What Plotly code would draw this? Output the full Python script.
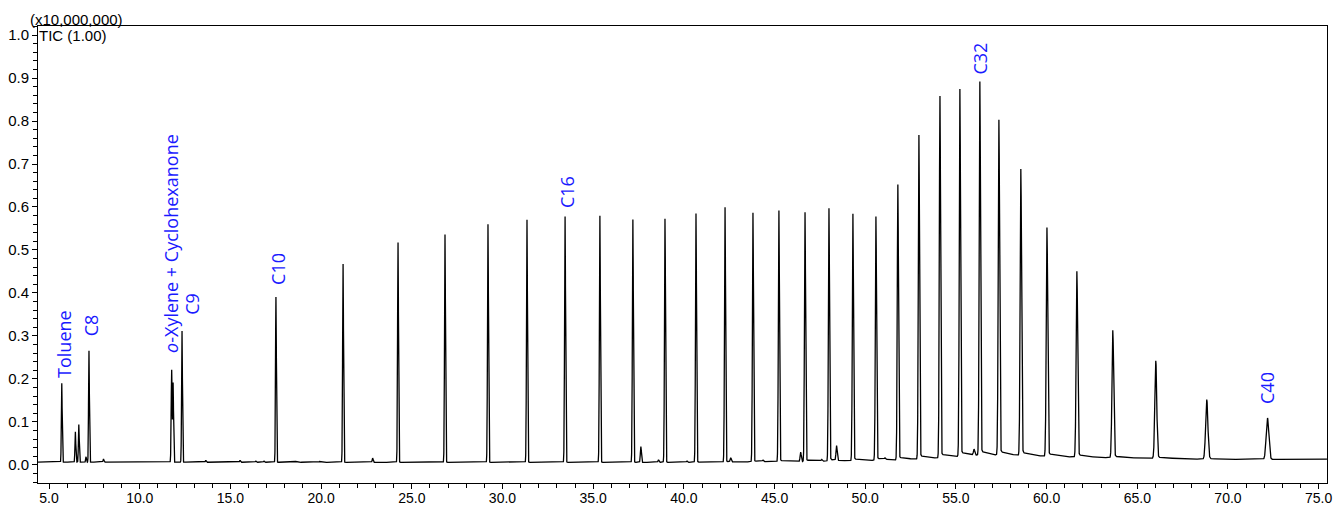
import numpy as np
import plotly.graph_objects as go

# ---- data (retention time in min, intensity in x10,000,000) ----
peak_times = [5.70, 6.45, 6.64, 7.04, 7.20, 8.00, 11.76, 11.84, 12.33, 13.64, 14.8, 15.53,
              16.40, 16.85, 17.51, 18.6, 19.9, 21.21, 22.84, 24.24, 26.83, 29.20, 31.35,
              33.45, 35.37, 37.19, 37.63, 38.60, 38.96, 40.17, 40.67, 42.27, 42.58,
              43.81, 44.36, 45.24, 46.44, 46.68, 47.60, 48.00, 48.42, 49.32, 50.59,
              51.08, 51.80, 52.96, 54.12, 55.22, 56.00, 56.32, 57.37, 58.58, 60.02,
              61.67, 63.65, 66.02, 68.83, 72.18]
peak_heights = [0.190, 0.077, 0.094, 0.019, 0.266, 0.014, 0.221, 0.190, 0.312, 0.011, 0.008,
                0.011, 0.009, 0.009, 0.391, 0.008, 0.008, 0.468, 0.016, 0.518, 0.536,
                0.560, 0.571, 0.578, 0.580, 0.571, 0.043, 0.012, 0.573, 0.009, 0.585,
                0.599, 0.016, 0.585, 0.010, 0.590, 0.029, 0.585, 0.011, 0.594, 0.041,
                0.580, 0.573, 0.012, 0.647, 0.760, 0.850, 0.865, 0.030, 0.881, 0.792,
                0.679, 0.545, 0.445, 0.310, 0.240, 0.151, 0.109]

baseline_t = [4.39, 20.0, 40.0, 48.0, 52.0, 54.0, 56.0, 58.0, 62.0, 66.0, 70.0, 75.46]
baseline_v = [0.0065, 0.0062, 0.0062, 0.0070, 0.0090, 0.0120, 0.0165, 0.0165, 0.0155,
              0.0145, 0.0125, 0.0135]

labels = ["Toluene", "C8", "<i>o</i>-Xylene + Cyclohexanone", "C9", "C10", "C16", "C32", "C40"]
label_t = [5.83, 7.32, 11.73, 12.87, 17.59, 33.56, 56.32, 72.18]
label_y = [0.198, 0.295, 0.255, 0.344, 0.415, 0.593, 0.903, 0.136]

x_ticks = [5.0, 10.0, 15.0, 20.0, 25.0, 30.0, 35.0, 40.0, 45.0, 50.0, 55.0, 60.0, 65.0, 70.0, 75.0]
y_ticks = [0.0, 0.1, 0.2, 0.3, 0.4, 0.5, 0.6, 0.7, 0.8, 0.9, 1.0]

# ---- build the trace from the peak table ----
t = np.arange(4.39, 75.46, 0.003)
base = np.interp(t, baseline_t, baseline_v)
y = base.copy()
for t0, h in zip(peak_times, peak_heights):
    sig = np.interp(t0, [5, 40, 55, 62, 66, 69, 72], [0.022, 0.028, 0.034, 0.042, 0.052, 0.062, 0.072])
    amp = h - np.interp(t0, baseline_t, baseline_v)
    if t0 == 11.76:
        sig = 0.026
    if t0 == 11.84:
        sig = 0.022
    y += amp * np.exp(-0.5 * ((t - t0) / sig) ** 2)
    ratio = np.interp(t0, [40, 50, 60], [0.0, 0.010, 0.015])
    if ratio > 0 and amp > 0.1:
        step = 1.0 / (1.0 + np.exp(-np.clip((t - t0) / sig, -50, 50)))
        y += ratio * amp * np.exp(-np.clip(t - t0, 0, None) / 1.0) * step

fig = go.Figure()
fig.add_trace(go.Scatter(x=t, y=y, mode="lines", line=dict(color="black", width=1.3),
                         hoverinfo="skip", showlegend=False))

for txt, lx, ly in zip(labels, label_t, label_y):
    fig.add_annotation(x=lx, y=ly, xref="x", yref="y", text=txt, showarrow=False,
                       textangle=-90, xanchor="center", yanchor="bottom",
                       font=dict(family="Open Sans", size=18, color="#1a1aff"))

fig.add_annotation(x=0, y=1, xref="paper", yref="paper", text="TIC (1.00)", showarrow=False,
                   xanchor="left", yanchor="top", xshift=-1, yshift=1,
                   font=dict(family="Liberation Sans", size=15, color="black"))
fig.add_annotation(x=0, y=1, xref="paper", yref="paper", text="(x10,000,000)", showarrow=False,
                   xanchor="left", yanchor="bottom", xshift=-10, yshift=-4,
                   font=dict(family="Liberation Sans", size=15, color="black"))

fig.update_layout(
    width=1333, height=506,
    margin=dict(l=38, r=6, t=26, b=23, autoexpand=False),
    paper_bgcolor="white", plot_bgcolor="white",
    font=dict(family="Liberation Sans", size=14, color="black"),
)
fig.update_xaxes(range=[4.39, 75.46], tickvals=x_ticks, ticktext=[f"{v:.1f}" for v in x_ticks],
                 ticks="outside", ticklen=5, tickwidth=1, tickcolor="black", automargin=False,
                 ticklabeloverflow="allow", ticklabelstandoff=-3,
                 minor=dict(dtick=1.0, ticks="outside", ticklen=4, tickcolor="black", showgrid=False),
                 showline=True, linecolor="black", linewidth=1, mirror=True,
                 showgrid=False, zeroline=False, tickfont=dict(size=14))
fig.update_yaxes(range=[-0.042, 1.021], tickvals=y_ticks, ticktext=[f"{v:.1f}" for v in y_ticks],
                 ticks="outside", ticklen=5, tickwidth=1, tickcolor="black", automargin=False,
                 ticklabeloverflow="allow",
                 minor=dict(dtick=0.02, tick0=0, ticks="outside", ticklen=4, tickcolor="black", showgrid=False),
                 showline=True, linecolor="black", linewidth=1, mirror=True,
                 showgrid=False, zeroline=False, tickfont=dict(size=15))

fig.write_html("out.html", config={"displayModeBar": False},
               post_script="document.body.style.margin='0';document.body.style.padding='0';")
